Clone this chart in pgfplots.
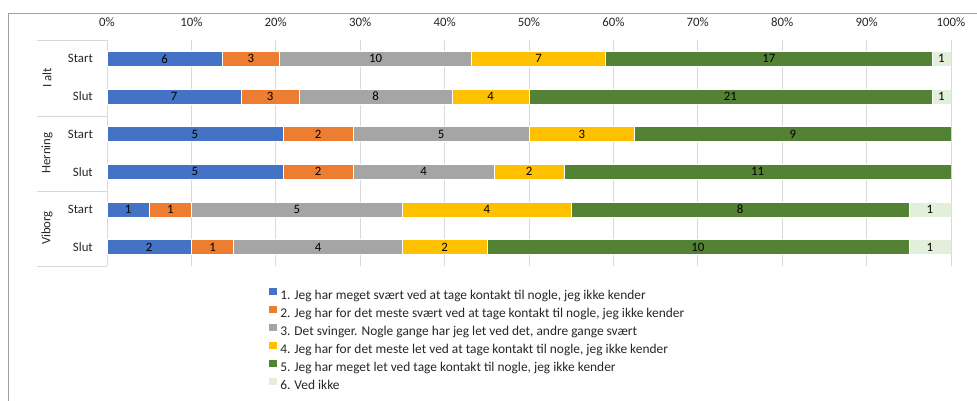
\documentclass[border=0pt]{standalone}
\usepackage{pgfplots}
\pgfplotsset{compat=1.18}
\usepackage{pgfplotstable}
\usepackage{fontspec}
\setmainfont{Carlito}
\definecolor{c1}{HTML}{4472C4}
\definecolor{c2}{HTML}{ED7D31}
\definecolor{c3}{HTML}{A5A5A5}
\definecolor{c4}{HTML}{FFC000}
\definecolor{c5}{HTML}{548235}
\definecolor{c6}{HTML}{E2EFDA}
\definecolor{gridc}{HTML}{D9D9D9}
\definecolor{txt}{HTML}{262626}
% y: row position (5 = top), t: total, a..f: counts per answer
\pgfplotstableread{
y t a b c d e f
5 44 6 3 10 7 17 1
4 44 7 3 8 4 21 1
3 24 5 2 5 3 9 0
2 24 5 2 4 2 11 0
1 20 1 1 5 4 8 1
0 20 2 1 4 2 10 1
}\data
\begin{document}
\begin{tikzpicture}[font=\fontsize{12.8bp}{15bp}\selectfont]
\useasboundingbox (0,0) rectangle (977bp,-401bp);
\draw[gray!75, line width=1bp] (8bp,-401bp) -- (8bp,-13bp) -- (977bp,-13bp);
% group separators and labels
\foreach \yy in {40,116,191,266} {\draw[gridc, line width=0.8bp] (37bp,-\yy bp) -- (107bp,-\yy bp);}
\node[rotate=90, text=txt] at (47bp,-78bp) {I alt};
\node[rotate=90, text=txt] at (47bp,-153bp) {Herning};
\node[rotate=90, text=txt] at (47bp,-228bp) {Viborg};
\begin{axis}[
  at={(107bp,-266bp)}, anchor=south west,
  width=844bp, height=226bp, scale only axis,
  xmin=0, xmax=100, ymin=-0.5, ymax=5.5,
  xbar stacked, bar width=15bp,
  axis line style={draw=none},
  tick style={draw=none},
  xmajorgrids, major grid style={gridc, line width=0.8bp},
  xtick={0,10,...,100},
  xticklabel pos=upper,
  xticklabel={\pgfmathprintnumber{\tick}\%},
  xticklabel style={inner sep=0pt, anchor=base, yshift=14bp, text=txt},
  /pgf/number format/assume math mode=true,
  ytick={0,...,5},
  yticklabels={Slut,Start,Slut,Start,Slut,Start},
  yticklabel style={inner sep=0pt, anchor=east, xshift=-14bp, text=txt},
  legend cell align=left,
  legend style={at={(axis description cs:0.192,-0.0885)}, anchor=north west,
    draw=none, fill=none, inner sep=0pt, row sep=0pt,
    font=\fontsize{13.4bp}{15bp}\selectfont,
    nodes={inner sep=0pt, text height=13bp, text depth=5bp, text=txt},
    /tikz/every odd column/.style={column sep=3bp}},
  legend image code/.code={\fill[#1, draw=none] (0bp,0.6bp) rectangle (8bp,7.6bp);},
]
\addplot[fill=c1, draw=white, line width=0.5bp] table[x expr=\thisrow{a}/\thisrow{t}*100, y=y] {\data};
\addplot[fill=c2, draw=white, line width=0.5bp] table[x expr=\thisrow{b}/\thisrow{t}*100, y=y] {\data};
\addplot[fill=c3, draw=white, line width=0.5bp] table[x expr=\thisrow{c}/\thisrow{t}*100, y=y] {\data};
\addplot[fill=c4, draw=white, line width=0.5bp] table[x expr=\thisrow{d}/\thisrow{t}*100, y=y] {\data};
\addplot[fill=c5, draw=white, line width=0.5bp] table[x expr=\thisrow{e}/\thisrow{t}*100, y=y] {\data};
\addplot[fill=c6, draw=white, line width=0.5bp] table[x expr=\thisrow{f}/\thisrow{t}*100, y=y] {\data};
\legend{1. Jeg har meget svært ved at tage kontakt til nogle\char44{} jeg ikke kender,
2. Jeg har for det meste svært ved at tage kontakt til nogle\char44{} jeg ikke kender,
3. Det svinger. Nogle gange har jeg let ved det\char44{} andre gange svært,
4. Jeg har for det meste let ved at tage kontakt til nogle\char44{} jeg ikke kender,
5. Jeg har meget let ved tage kontakt til nogle\char44{} jeg ikke kender,
6. Ved ikke}
\end{axis}
\begin{axis}[
  at={(107bp,-266bp)}, anchor=south west,
  width=844bp, height=226bp, scale only axis,
  xmin=0, xmax=100, ymin=-0.5, ymax=5.5,
  hide axis,
  nodes near coords,
  point meta=explicit,
  /pgf/number format/assume math mode=true,
  every node near coord/.append style={anchor=center, inner sep=0pt, text=black, font=\fontsize{12.8bp}{15bp}\selectfont},
]
\addplot[only marks, mark=none] table[x expr=(\thisrow{a}/2)/\thisrow{t}*100, y=y, meta=a] {\data};
\addplot[only marks, mark=none] table[x expr=(\thisrow{a}+\thisrow{b}/2)/\thisrow{t}*100, y=y, meta=b] {\data};
\addplot[only marks, mark=none] table[x expr=(\thisrow{a}+\thisrow{b}+\thisrow{c}/2)/\thisrow{t}*100, y=y, meta=c] {\data};
\addplot[only marks, mark=none] table[x expr=(\thisrow{a}+\thisrow{b}+\thisrow{c}+\thisrow{d}/2)/\thisrow{t}*100, y=y, meta=d] {\data};
\addplot[only marks, mark=none] table[x expr=(\thisrow{a}+\thisrow{b}+\thisrow{c}+\thisrow{d}+\thisrow{e}/2)/\thisrow{t}*100, y=y, meta=e] {\data};
\addplot[only marks, mark=none, skip coords between index={2}{4}] table[x expr=(\thisrow{a}+\thisrow{b}+\thisrow{c}+\thisrow{d}+\thisrow{e}+\thisrow{f}/2)/\thisrow{t}*100, y=y, meta=f] {\data};
\end{axis}
\end{tikzpicture}
\end{document}
